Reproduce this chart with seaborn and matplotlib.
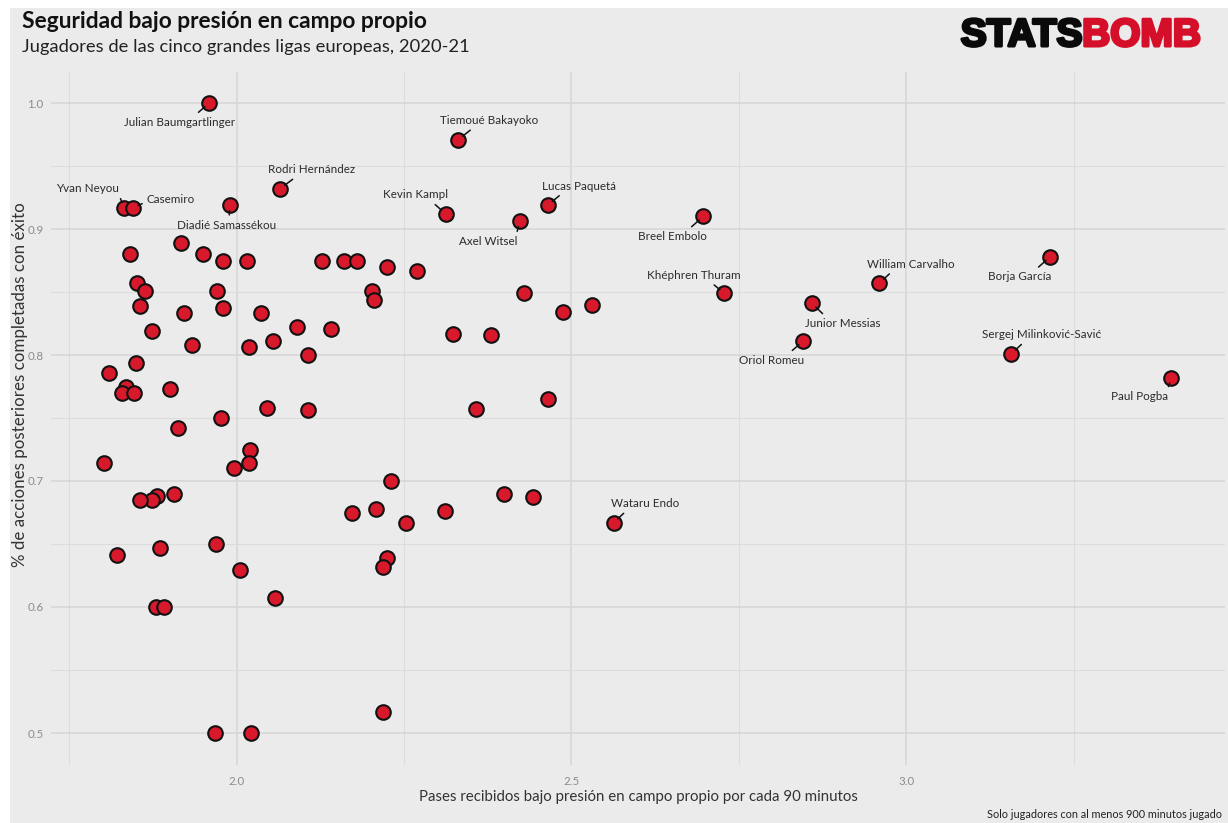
import numpy as np
import pandas as pd
import matplotlib
matplotlib.use("Agg")
import matplotlib.pyplot as plt
import matplotlib.patheffects as pe
from matplotlib.patches import Rectangle
from matplotlib.ticker import MultipleLocator, FormatStrFormatter
import seaborn as sns

# ---------------- data ----------------
labeled_names = [
    "Julian Baumgartlinger", "Tiemoué Bakayoko", "Rodri Hernández", "Yvan Neyou",
    "Casemiro", "Diadié Samassékou", "Kevin Kampl", "Lucas Paquetá", "Axel Witsel",
    "Breel Embolo", "Khéphren Thuram", "William Carvalho", "Borja García",
    "Junior Messias", "Oriol Romeu", "Sergej Milinković-Savić", "Paul Pogba",
    "Wataru Endo",
]
labeled_x = [1.959, 2.331, 2.065, 1.832, 1.845, 1.990, 2.312, 2.465, 2.423,
             2.697, 2.728, 2.960, 3.215, 2.859, 2.846, 3.157, 3.396, 2.563]
labeled_y = [1.000, 0.971, 0.932, 0.917, 0.917, 0.919, 0.912, 0.919, 0.906,
             0.910, 0.849, 0.857, 0.878, 0.841, 0.811, 0.801, 0.782, 0.667]

other_x = [1.917, 1.841, 1.950, 1.980, 2.016, 2.127, 2.160, 2.179, 2.224, 2.270,
           1.851, 1.863, 1.970, 1.855, 1.921, 1.980, 2.036, 2.090, 2.141, 2.202,
           2.205, 2.429, 2.530, 2.487, 2.323, 2.380, 1.873, 1.933, 2.019, 2.055,
           2.106, 1.850, 1.810, 1.835, 1.829, 1.847, 1.901, 1.976, 1.912, 2.045,
           2.106, 2.357, 2.465, 2.020, 2.019, 1.996, 1.802, 2.230, 1.907, 1.881,
           1.873, 1.856, 2.399, 2.442, 2.311, 2.208, 2.172, 2.253, 1.822, 1.886,
           1.969, 2.224, 2.218, 2.005, 2.058, 1.879, 1.891, 2.218, 1.968, 2.022]
other_y = [0.889, 0.880, 0.880, 0.875, 0.875, 0.875, 0.875, 0.875, 0.870, 0.867,
           0.857, 0.851, 0.851, 0.839, 0.833, 0.837, 0.833, 0.822, 0.821, 0.851,
           0.844, 0.849, 0.840, 0.834, 0.817, 0.816, 0.819, 0.808, 0.806, 0.811,
           0.800, 0.794, 0.786, 0.775, 0.770, 0.770, 0.773, 0.750, 0.742, 0.758,
           0.756, 0.757, 0.765, 0.725, 0.714, 0.710, 0.714, 0.700, 0.690, 0.688,
           0.685, 0.685, 0.690, 0.687, 0.676, 0.678, 0.675, 0.667, 0.641, 0.647,
           0.650, 0.639, 0.632, 0.629, 0.607, 0.600, 0.600, 0.517, 0.500, 0.500]

title = "Seguridad bajo presión en campo propio"
subtitle = "Jugadores de las cinco grandes ligas europeas, 2020-21"
xlabel = "Pases recibidos bajo presión en campo propio por cada 90 minutos"
ylabel = "% de acciones posteriores completadas con éxito"
caption = "Solo jugadores con al menos 900 minutos jugado"

# label layout: offset of text centre from point (pixels, y up) and connector anchor on text bbox
label_layout = {
    "Julian Baumgartlinger": (-30, -19, 0.63, 1.0),
    "Tiemoué Bakayoko": (31, 19, 0.36, 0.0),
    "Rodri Hernández": (31, 19, 0.35, 0.0),
    "Yvan Neyou": (-37, 19, 1.0, 0.0),
    "Casemiro": (38, 8, 0.0, 0.3),
    "Diadié Samassékou": (-3, -20, 0.52, 1.0),
    "Kevin Kampl": (-30, 19, 0.73, 0.0),
    "Lucas Paquetá": (31, 19, 0.30, 0.0),
    "Axel Witsel": (-32, -20, 0.98, 1.0),
    "Breel Embolo": (-31, -20, 0.71, 1.0),
    "Khéphren Thuram": (-30, 18, 0.66, 0.0),
    "William Carvalho": (31, 19, 0.31, 0.0),
    "Borja García": (-31, -20, 0.73, 1.0),
    "Junior Messias": (31, -20, 0.29, 1.0),
    "Oriol Romeu": (-32, -19, 0.75, 1.0),
    "Sergej Milinković-Savić": (30, 19, 0.37, 0.0),
    "Paul Pogba": (-32, -19, 0.98, 1.0),
    "Wataru Endo": (31, 19, 0.26, 0.0),
}

df = pd.DataFrame({
    "x": other_x + labeled_x,
    "y": other_y + labeled_y,
    "name": [""] * len(other_x) + labeled_names,
})

# ---------------- style ----------------
BG = "#ebebeb"
RED = "#d7192b"
sns.set_theme(style="white")
plt.rcParams["font.family"] = ["Lato", "DejaVu Sans"]

W, H = 1228, 823
fig = plt.figure(figsize=(W / 100, H / 100), dpi=100, facecolor="white")
fig.patches.append(Rectangle((10 / W, 0), 1, 1 - 8 / H, transform=fig.transFigure,
                             facecolor=BG, edgecolor="none", zorder=-10))

ax = fig.add_axes([50.7 / W, 1 - 764.5 / H, (1224.8 - 50.7) / W, (764.5 - 71.5) / H])
ax.set_facecolor(BG)
for s in ax.spines.values():
    s.set_visible(False)

sns.scatterplot(data=df, x="x", y="y", ax=ax, s=110, color=RED,
                edgecolor="#111111", linewidth=1.5, zorder=3, legend=False)

# ggplot-style 5% expansion
xr = df["x"].max() - df["x"].min()
yr = df["y"].max() - df["y"].min()
ax.set_xlim(df["x"].min() - 0.05 * xr, df["x"].max() + 0.05 * xr)
ax.set_ylim(df["y"].min() - 0.05 * yr, df["y"].max() + 0.05 * yr)

ax.xaxis.set_major_locator(MultipleLocator(0.5))
ax.xaxis.set_minor_locator(MultipleLocator(0.25))
ax.yaxis.set_major_locator(MultipleLocator(0.1))
ax.yaxis.set_minor_locator(MultipleLocator(0.05))
ax.xaxis.set_major_formatter(FormatStrFormatter("%.1f"))
ax.yaxis.set_major_formatter(FormatStrFormatter("%.1f"))
ax.grid(True, which="major", color="#d5d5d5", linewidth=1.1, zorder=0)
ax.grid(True, which="minor", color="#dcdcdc", linewidth=0.8, zorder=0)
ax.set_axisbelow(True)
ax.tick_params(which="both", length=0)
ax.tick_params(axis="x", pad=8, labelsize=8.3, labelcolor="#8c8c8c")
ax.tick_params(axis="y", pad=5, labelsize=8.3, labelcolor="#8c8c8c")
ax.set_xlabel("")
ax.set_ylabel("")

# labels with connectors
for name, x, y in zip(labeled_names, labeled_x, labeled_y):
    dx, dy, rx, ry = label_layout[name]
    ax.annotate(name, xy=(x, y), xytext=(dx, dy), textcoords="offset pixels",
                ha="center", va="center", fontsize=8.4, color="#2b2b2b", zorder=4,
                arrowprops=dict(arrowstyle="-", color="#111111", lw=1.1,
                                relpos=(rx, ry), shrinkA=1, shrinkB=4))

# titles and text
fig.text(22 / W, 1 - 22 / H, title, fontsize=16.4, fontweight="bold",
         color="#111111", ha="left", va="center")
fig.text(22 / W, 1 - 47 / H, subtitle, fontsize=13.2, color="#222222",
         ha="left", va="center")
fig.text(638 / W, 1 - 797 / H, xlabel, fontsize=10.8, color="#333333",
         ha="center", va="center")
fig.text(20 / W, 1 - 385 / H, ylabel, fontsize=12.2, color="#333333",
         ha="center", va="center", rotation=90)
fig.text(1222 / W, 1 - 815 / H, caption, fontsize=7.8, color="#222222",
         ha="right", va="center")

# logo
bomb = fig.text(1201 / W, 1 - 46 / H, "BOMB", fontsize=28, fontweight="bold",
                family="Liberation Sans", color="#d50f2a", ha="right", va="baseline",
                path_effects=[pe.withStroke(linewidth=2.2, foreground="#d50f2a")])
ax.annotate("STATS", xy=(0, 0), xycoords=bomb, xytext=(0, 0),
            textcoords="offset pixels", ha="right", va="bottom", fontsize=28,
            fontweight="bold", family="Liberation Sans", color="#0a0a0a",
            annotation_clip=False,
            path_effects=[pe.withStroke(linewidth=2.2, foreground="#0a0a0a")])

fig.savefig("out.png", dpi=100, facecolor=fig.get_facecolor())
